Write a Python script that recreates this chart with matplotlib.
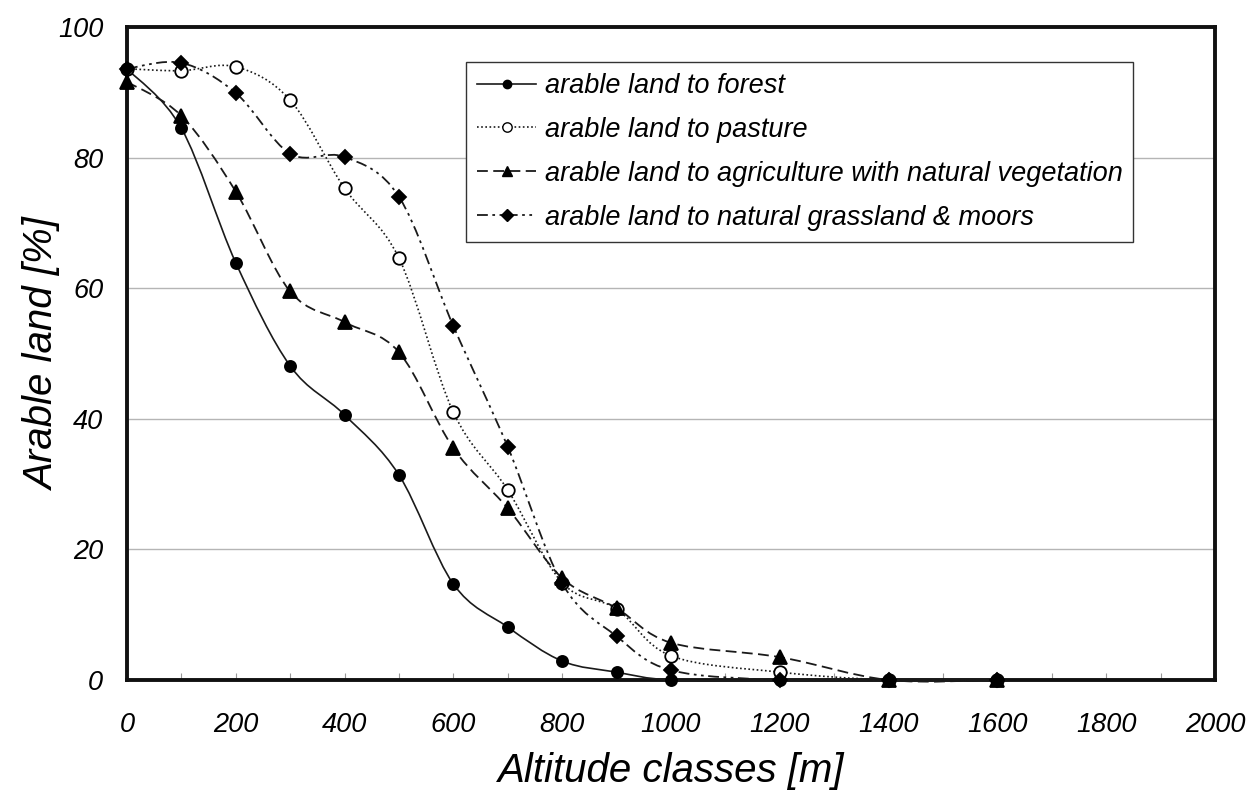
import numpy as np
import matplotlib.pyplot as plt
from matplotlib.path import Path
from matplotlib.patches import PathPatch
from matplotlib.lines import Line2D

plt.rcParams['font.family'] = ['Liberation Sans', 'DejaVu Sans']
plt.rcParams['font.style'] = 'italic'

altitude = [0, 100, 200, 300, 400, 500, 600, 700, 800, 900, 1000, 1200, 1400, 1600]
forest = [93.6, 84.5, 63.9, 48.1, 40.6, 31.4, 14.7, 8.1, 2.9, 1.2, 0.0, 0.0, 0.0, 0.0]
pasture = [93.6, 93.3, 93.9, 88.8, 75.3, 64.6, 41.0, 29.1, 14.9, 10.9, 3.7, 1.2, 0.0, 0.0]
agri_veg = [91.6, 86.4, 74.8, 59.5, 54.8, 50.2, 35.5, 26.3, 15.6, 11.0, 5.7, 3.5, 0.0, 0.0]
grassland = [93.6, 94.5, 89.9, 80.6, 80.1, 74.0, 54.2, 35.7, 14.8, 6.7, 1.5, 0.0, 0.0, 0.0]

labels = ['arable land to forest',
          'arable land to pasture',
          'arable land to agriculture with natural vegetation',
          'arable land to natural grassland & moors']
xticks = [0, 200, 400, 600, 800, 1000, 1200, 1400, 1600, 1800, 2000]
yticks = [0, 20, 40, 60, 80, 100]


def smooth_path(x, y):
    # spreadsheet-style smoothed line: cubic bezier segments through the points
    p = np.column_stack([x, y]).astype(float)
    ext = np.vstack([p[0], p, p[-1]])
    verts = [p[0]]
    codes = [Path.MOVETO]
    for i in range(len(p) - 1):
        p0, p1, p2, p3 = ext[i], ext[i + 1], ext[i + 2], ext[i + 3]
        verts += [p1 + (p2 - p0) / 6, p2 - (p3 - p1) / 6, p2]
        codes += [Path.CURVE4] * 3
    return Path(verts, codes)


fig = plt.figure(figsize=(12.47, 8.05), dpi=100)
ax = fig.add_axes([0.1018, 0.1553, 0.8725, 0.8112])

styles = [
    dict(ls='-', marker='o', mfc='black', ms=8, lw=1.2),
    dict(ls=(0, (1, 1.5)), marker='o', mfc='white', ms=9, lw=1.2),
    dict(ls=(0, (6, 3)), marker='^', mfc='black', ms=10, lw=1.3),
    dict(ls=(0, (6, 2.5, 1.5, 2.5, 1.5, 2.5)), marker='D', mfc='black', ms=7.5, lw=1.3),
]
series = [forest, pasture, agri_veg, grassland]

handles = []
for vals, st, lab in zip(series, styles, labels):
    patch = PathPatch(smooth_path(altitude, vals), fill=False, edgecolor='#1a1a1a',
                      linestyle=st['ls'], lw=st['lw'], zorder=3, clip_on=False)
    ax.add_patch(patch)
    ax.plot(altitude, vals, ls='none', marker=st['marker'], mfc=st['mfc'],
            mec='black', mew=1.3, ms=st['ms'], zorder=4, clip_on=False)
    handles.append(Line2D([], [], color='#1a1a1a', ls=st['ls'], lw=st['lw'],
                          marker=st['marker'], mfc=st['mfc'], mec='black',
                          mew=1.0, ms=st['ms'] * 0.75))

ax.set_xlim(0, 2000)
ax.set_ylim(0, 100)
ax.set_xticks(xticks)
ax.set_xticks(np.arange(0, 2001, 100), minor=True)
ax.set_yticks(yticks)
ax.tick_params(axis='x', which='both', direction='in', length=5, width=0.8,
               color='#999999', labelsize=19.5, pad=23)
ax.tick_params(axis='y', length=0, labelsize=19.5, pad=17)
ax.grid(axis='y', color='#b5b5b5', lw=1.0)
ax.set_axisbelow(True)
for s in ax.spines.values():
    s.set_linewidth(2.8)
    s.set_color('#111111')

ax.set_xlabel('Altitude classes [m]', fontsize=29, labelpad=10)
ax.set_ylabel('Arable land [%]', fontsize=29)
ax.yaxis.set_label_coords(-0.06, 0.5)

leg = ax.legend(handles, labels, loc='upper left', bbox_to_anchor=(0.3116, 0.946),
                fontsize=19.5, frameon=True, fancybox=False, edgecolor='#333333',
                framealpha=1, handlelength=2.2, handletextpad=0.3,
                labelspacing=0.66, borderpad=0.4, borderaxespad=0)
leg.get_frame().set_linewidth(1.0)

fig.savefig('out.png', dpi=100)
